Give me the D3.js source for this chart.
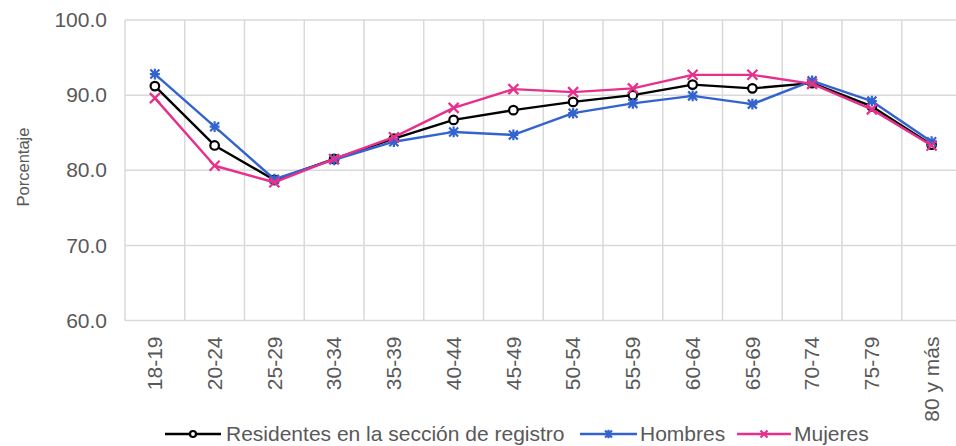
<!DOCTYPE html>
<html>
<head>
<meta charset="utf-8">
<script src="https://cdn.jsdelivr.net/npm/d3@7"></script>
<style>
  html, body { margin: 0; padding: 0; background: #fff; }
  svg { display: block; font-family: "Liberation Sans", Arial, sans-serif; }
</style>
</head>
<body>
<svg id="chart" width="956" height="446"></svg>
<script>
// Grupos de edad
const categories = ["18-19", "20-24", "25-29", "30-34", "35-39", "40-44", "45-49",
  "50-54", "55-59", "60-64", "65-69", "70-74", "75-79", "80 y más"];

// Porcentajes por serie
const residentes = [91.2, 83.3, 78.7, 81.5, 84.2, 86.7, 88.0, 89.1, 90.0, 91.4, 90.9, 91.6, 88.5, 83.4];
const hombres    = [92.8, 85.8, 78.8, 81.4, 83.8, 85.1, 84.7, 87.6, 88.9, 89.9, 88.8, 91.9, 89.2, 83.8];
const mujeres    = [89.6, 80.6, 78.4, 81.5, 84.4, 88.3, 90.8, 90.4, 90.9, 92.7, 92.7, 91.5, 88.1, 83.3];

const yTicks = [60, 70, 80, 90, 100];
const yTitle = "Porcentaje";

const series = [
  { name: "Residentes en la sección de registro", values: residentes, color: "#000000", marker: "circle" },
  { name: "Hombres", values: hombres, color: "#3263cf", marker: "star" },
  { name: "Mujeres", values: mujeres, color: "#e6308b", marker: "cross" }
];

const svg = d3.select("#chart");
const plotLeft = 125, plotRight = 961.5, plotTop = 20, plotBottom = 320.5;
const textColor = "#595959";
const gridColor = "#d9d9d9";
const labelSize = "21px";

const x = d3.scaleBand().domain(categories).range([plotLeft, plotRight]).padding(0);
const y = d3.scaleLinear().domain([60, 100]).range([plotBottom, plotTop]);

// Cuadrícula horizontal
svg.append("g")
  .selectAll("line")
  .data(yTicks)
  .join("line")
  .attr("x1", plotLeft).attr("x2", plotRight)
  .attr("y1", d => y(d)).attr("y2", d => y(d))
  .attr("stroke", gridColor).attr("stroke-width", 1.5);

// Cuadrícula vertical (límites de cada grupo)
const bounds = categories.map(c => x(c)).concat([plotRight]);
svg.append("g")
  .selectAll("line")
  .data(bounds)
  .join("line")
  .attr("x1", d => d).attr("x2", d => d)
  .attr("y1", plotTop).attr("y2", plotBottom)
  .attr("stroke", gridColor).attr("stroke-width", 1.5);

// Eje Y
const yAxis = svg.append("g")
  .attr("transform", `translate(${plotLeft},0)`)
  .call(d3.axisLeft(y).tickValues(yTicks).tickFormat(d3.format(".1f")).tickSize(0).tickPadding(18));
yAxis.select(".domain").remove();
yAxis.selectAll("text")
  .attr("fill", textColor)
  .style("font-size", labelSize);

// Eje X con etiquetas verticales
const xAxis = svg.append("g")
  .attr("transform", `translate(0,${plotBottom})`)
  .call(d3.axisBottom(x).tickSize(0));
xAxis.select(".domain").remove();
xAxis.selectAll("text")
  .attr("fill", textColor)
  .style("font-size", labelSize)
  .attr("text-anchor", "end")
  .attr("dy", "0.35em")
  .attr("transform", "translate(0,16) rotate(-90)")
  .attr("x", 0).attr("y", 0);

// Título del eje Y
svg.append("text")
  .attr("transform", "translate(29,167) rotate(-90)")
  .attr("text-anchor", "middle")
  .attr("fill", textColor)
  .style("font-size", "16.5px")
  .text(yTitle);

// Dibujo de marcadores
function drawMarker(g, type, color, cx, cy, s) {
  if (type === "circle") {
    g.append("circle").attr("cx", cx).attr("cy", cy).attr("r", s)
      .attr("fill", "#fff").attr("stroke", color).attr("stroke-width", 2.2);
  } else if (type === "star") {
    const p = d3.path();
    p.moveTo(cx - s, cy - s); p.lineTo(cx + s, cy + s);
    p.moveTo(cx - s, cy + s); p.lineTo(cx + s, cy - s);
    p.moveTo(cx, cy - s * 1.2); p.lineTo(cx, cy + s * 1.2);
    p.moveTo(cx - s * 1.1, cy); p.lineTo(cx + s * 1.1, cy);
    g.append("path").attr("d", p.toString()).attr("stroke", color)
      .attr("stroke-width", 2.2).attr("fill", "none");
  } else {
    const p = d3.path();
    p.moveTo(cx - s, cy - s); p.lineTo(cx + s, cy + s);
    p.moveTo(cx - s, cy + s); p.lineTo(cx + s, cy - s);
    g.append("path").attr("d", p.toString()).attr("stroke", color)
      .attr("stroke-width", 2.2).attr("fill", "none");
  }
}

const line = d3.line()
  .x((d, i) => x(categories[i]) + x.bandwidth() / 2)
  .y(d => y(d));

const markerSize = { circle: 4.3, star: 4.5, cross: 5 };

series.forEach(s => {
  const g = svg.append("g");
  g.append("path")
    .datum(s.values)
    .attr("d", line)
    .attr("fill", "none")
    .attr("stroke", s.color)
    .attr("stroke-width", 2.4)
    .attr("stroke-linejoin", "round");
  s.values.forEach((v, i) => {
    drawMarker(g, s.marker, s.color, x(categories[i]) + x.bandwidth() / 2, y(v), markerSize[s.marker]);
  });
});

// Leyenda
const legendY = 434;
const legendItems = [
  { s: series[0], x0: 165, x1: 221, tx: 226 },
  { s: series[1], x0: 580, x1: 637, tx: 640 },
  { s: series[2], x0: 737, x1: 791, tx: 794 }
];
const lg = svg.append("g");
legendItems.forEach(it => {
  lg.append("line")
    .attr("x1", it.x0).attr("x2", it.x1)
    .attr("y1", legendY).attr("y2", legendY)
    .attr("stroke", it.s.color).attr("stroke-width", 2.4);
  drawMarker(lg, it.s.marker, it.s.color, (it.x0 + it.x1) / 2, legendY,
    it.s.marker === "circle" ? 3 : 3.5);
  lg.append("text")
    .attr("x", it.tx).attr("y", legendY)
    .attr("dy", "0.35em")
    .attr("fill", textColor)
    .style("font-size", labelSize)
    .text(it.s.name);
});
</script>
</body>
</html>
